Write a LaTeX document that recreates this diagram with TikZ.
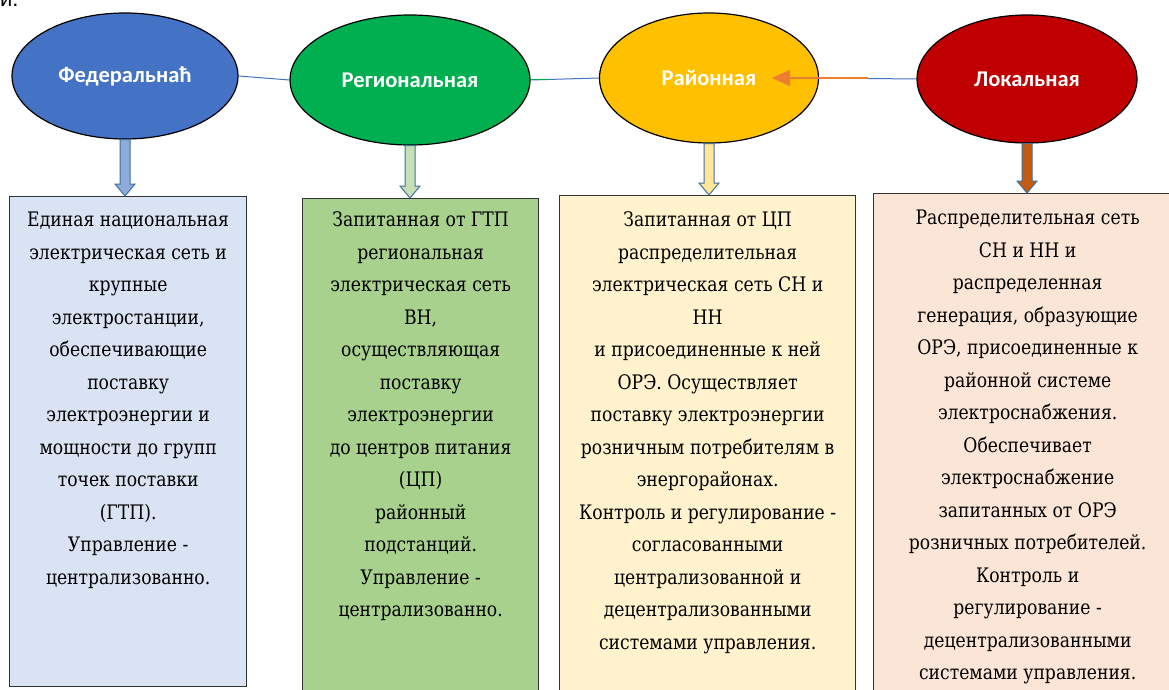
\documentclass[tikz,border=0pt]{standalone}
\usepackage{fontspec}
\newfontfamily\timesf{DejaVu Serif}[FakeStretch=0.86]
\newfontfamily\calib{Carlito}
\newfontfamily\arialf{Liberation Sans}
\usetikzlibrary{shapes.geometric,arrows.meta,calc}
\definecolor{fedblue}{HTML}{4472C4}
\definecolor{reggreen}{HTML}{00B050}
\definecolor{rayyellow}{HTML}{FFC000}
\definecolor{locred}{HTML}{C00000}
\definecolor{fedboxc}{HTML}{DAE3F3}
\definecolor{regboxc}{HTML}{A9D18E}
\definecolor{rayboxc}{HTML}{FFF2CC}
\definecolor{locboxc}{HTML}{FBE5D6}
\definecolor{fedarr}{HTML}{8FAADC}
\definecolor{regarr}{HTML}{C5E0B4}
\definecolor{rayarr}{HTML}{FFE699}
\definecolor{locarr}{HTML}{C55A11}
\definecolor{arrline}{HTML}{41719C}
\definecolor{linkblue}{HTML}{4472C4}
\definecolor{orangearr}{HTML}{ED7D31}
\tikzset{
 ell/.style={ellipse, draw=black, line width=1.2pt, inner sep=0pt, text=white,
   font=\calib\bfseries\fontsize{22.5}{26}\selectfont},
 infobox/.style={rectangle, draw=black!80, line width=1.3pt, anchor=north west, inner sep=0pt},
 infotext/.style={anchor=north, inner sep=0pt, align=center,
   font=\timesf\fontsize{20}{32.5}\selectfont},
 link/.style={draw=linkblue, line width=1pt},
 blockarr/.style={draw=arrline, line width=1pt, line join=miter}
}
\newcommand\blockarrow[3]{%
 \draw[blockarr, fill=#3] let \p1=(#1.south), \p2=(#2.north) in
  (\x1-5pt,\y1) -- (\x1-5pt,\y2+12pt) -- (\x1-10pt,\y2+12pt) -- (\x1,\y2)
  -- (\x1+10pt,\y2+12pt) -- (\x1+5pt,\y2+12pt) -- (\x1+5pt,\y1) -- cycle;}
\begin{document}
\begin{tikzpicture}[x=1pt,y=-1pt]
\useasboundingbox (0,0) rectangle (1169,690);
\clip (0,0) rectangle (1169,690);
\fill[white] (0,0) rectangle (1169,690);

% partial text from above
\node[anchor=base west, inner sep=0pt, font=\arialf\fontsize{22}{26}\selectfont] (prev) at (0,7) {и.};

% boxes
\node[infobox, fill=fedboxc, minimum width=237pt, minimum height=490pt] (fedB) at (9,196) {};
\node[infobox, fill=regboxc, minimum width=236pt, minimum height=510pt] (regB) at (302,198) {};
\node[infobox, fill=rayboxc, minimum width=296pt, minimum height=510pt] (rayB) at (559,195) {};
\node[infobox, fill=locboxc, minimum width=308pt, minimum height=520pt] (locB) at (873,193) {};

\node[infotext] (fedT) at ($(fedB.north)+(0,8)$) {\strut Единая национальная\\электрическая сеть и\\крупные\\электростанции,\\обеспечивающие\\поставку\\электроэнергии и\\мощности до групп\\точек поставки\\(ГТП).\\Управление -\\централизованно.};
\node[infotext] (regT) at ($(regB.north)+(0,6)$) {\strut Запитанная от ГТП\\региональная\\электрическая сеть\\ВН,\\осуществляющая\\поставку\\электроэнергии\\до центров питания\\(ЦП)\\районный\\подстанций.\\Управление -\\централизованно.};
\node[infotext] (rayT) at ($(rayB.north)+(0,9)$) {\strut Запитанная от ЦП\\распределительная\\электрическая сеть СН и\\НН\\и присоединенные к ней\\ОРЭ. Осуществляет\\поставку электроэнергии\\розничным потребителям в\\энергорайонах.\\Контроль и регулирование -\\согласованными\\централизованной и\\децентрализованными\\системами управления.};
\node[infotext] (locT) at ($(locB.north)+(0,9)$) {\strut Распределительная сеть\\СН и НН и\\распределенная\\генерация, образующие\\ОРЭ, присоединенные к\\районной системе\\электроснабжения.\\Обеспечивает\\электроснабжение\\запитанных от ОРЭ\\розничных потребителей.\\Контроль и\\регулирование -\\децентрализованными\\системами управления.};

% ellipses
\node[ell, fill=fedblue, minimum width=226pt, minimum height=126pt] (fed) at (125,76) {Федеральнаћ};
\node[ell, fill=reggreen, minimum width=240pt, minimum height=130pt] (reg) at (410,80) {Региональная};
\node[ell, fill=rayyellow, minimum width=219pt, minimum height=130pt] (ray) at (709,78) {Районная};
\node[ell, fill=locred, minimum width=220pt, minimum height=128pt] (loc) at (1027,79) {Локальная};

% links
\draw[link] (fed.east) -- (reg.west);
\draw[link] (reg.east) -- (ray.west);
\draw[draw=reggreen, line width=1pt] (reg.east) -- ++(18,0);
\draw[link] (ray.east) -- (loc.west);
\coordinate (ostart) at (868,78);
\coordinate (oend) at ($(ray.center)+(63,0)$);
\draw[draw=orangearr, line width=1.6pt, -{Triangle[length=18pt,width=16pt]}] (ostart) -- (oend);

% block arrows
\blockarrow{fed}{fedB}{fedarr}
\blockarrow{reg}{regB}{regarr}
\blockarrow{ray}{rayB}{rayarr}
\blockarrow{loc}{locB}{locarr}
\end{tikzpicture}
\end{document}
